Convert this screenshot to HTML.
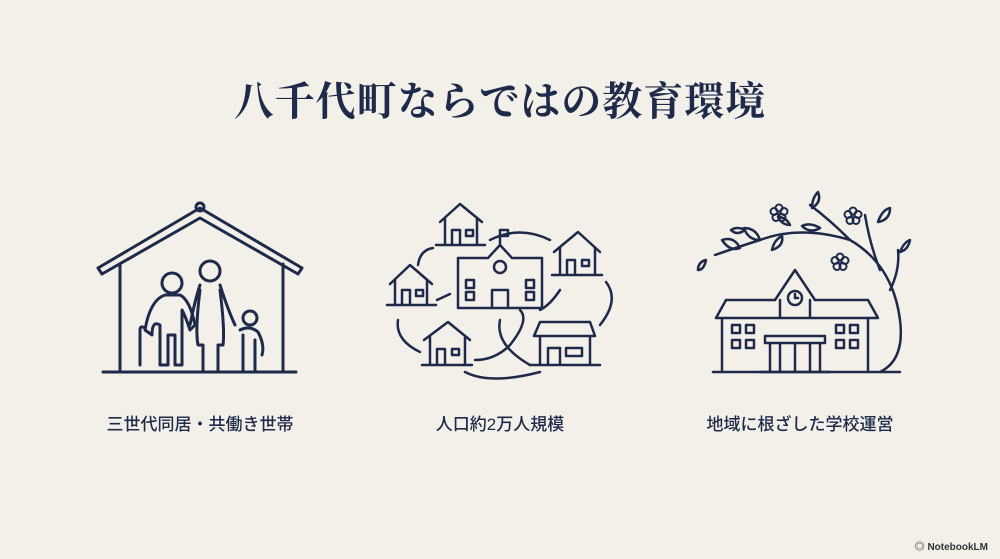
<!DOCTYPE html>
<html><head><meta charset="utf-8"><style>
body{margin:0;width:1000px;height:559px;background:#f3f0ea;overflow:hidden;position:relative;font-family:"Liberation Sans","Noto Sans CJK JP",sans-serif;color:#1e2a4a}
.t{position:absolute;top:70px;left:0;width:1000px;text-align:center;font-family:"Liberation Serif","Noto Serif CJK SC",serif;font-weight:700;font-size:40px;letter-spacing:1px}
.l{position:absolute;top:410px;width:300px;text-align:center;font-size:17px;font-weight:500}
.nb{position:absolute;right:12px;bottom:6px;font-size:10px;font-weight:700;color:#333}
svg{position:absolute;left:0;top:0}
</style></head><body>
<div class="t">八千代町ならではの教育環境</div>
<svg width="1000" height="559" fill="none" stroke="#1e2a4a" stroke-width="3" stroke-linecap="round" stroke-linejoin="round">
<defs><g id="fl"><circle cx="0" cy="-5" r="3.5"/><circle cx="5" cy="-1.5" r="3.5"/><circle cx="3" cy="4.5" r="3.5"/><circle cx="-3" cy="4.5" r="3.5"/><circle cx="-5" cy="-1.5" r="3.5"/><circle cx="0" cy="0" r="1.5"/></g></defs>
<!-- house -->
<path d="M98 268 L200 208 L302 268 L298 274 L200 218 L102 274 Z"/>
<circle cx="200" cy="207" r="4"/>
<path d="M120 264 V372 M283 264 V372 M103 372 H296"/>
<circle cx="172" cy="283" r="10"/>
<path d="M145 330 Q150 300 165 295 H180 Q190 300 195 325 L190 330 Q185 315 182 310 V365 H175 V335 H168 V365 H160 V325 Q152 320 152 335 Z"/>
<path d="M140 365 V330 Q140 325 145 328"/>
<circle cx="210" cy="271" r="10"/>
<path d="M200 285 Q195 300 190 325 M220 285 Q228 310 235 325 M200 290 Q195 330 198 345 H203 V372 M220 290 Q225 330 223 345 H218 V372"/>
<circle cx="250" cy="318" r="7"/>
<path d="M240 330 Q250 325 258 332 Q265 345 262 355 M243 335 V372 M255 340 V372"/>
<!-- middle -->
<g stroke-width="2.5">
<path d="M440 222 L460 204 L482 222 M445 218 V245 H477 V218 M452 245 V230 H460 V245 M466 230 h7 v6 h-7z M436 245 H485"/>
<path d="M390 284 L410 265 L432 284 M395 280 V305 H427 V280 M402 305 V290 H410 V305 M416 290 h7 v6 h-7z M387 305 H436"/>
<path d="M554 252 L578 232 L600 252 M560 248 V275 H595 V248 M567 275 V260 H575 V275 M582 260 h7 v6 h-7z M552 275 H602"/>
<path d="M424 340 L448 322 L470 340 M430 336 V365 H465 V336 M437 365 V349 H445 V365 M452 349 h7 v6 h-7z M422 365 H472"/>
<path d="M534 336 H595 L590 322 H540 Z M540 336 V365 H590 V336 M548 365 V348 H560 V365 M566 348 h16 v8 h-16z M530 365 H600"/>
<path d="M458 258 H488 L500 245 L512 258 H542 V308 H458 Z M500 245 V236 M500 236 h8 v-6 h-8z M492 308 V290 H508 V308"/>
<circle cx="500" cy="267" r="6"/>
<path d="M466 280 h8 v8 h-8z M466 292 h8 v8 h-8z M526 280 h8 v8 h-8z M526 292 h8 v8 h-8z"/>
<path d="M433 248 Q420 250 418 265 M490 240 Q520 225 550 240 M560 290 Q550 305 540 310 M437 300 L450 294 M398 320 Q395 340 420 352 M475 360 Q495 360 510 345 Q530 320 520 310 M500 320 Q495 345 530 365 M540 372 Q490 385 465 372 M606 282 Q620 300 600 325"/>
</g>
<!-- school right -->
<g stroke-width="2.5">
<path d="M713 372 H900 M722 318 V372 M868 318 V372 M716 318 H878 L868 300 H815 M775 300 H726 L716 318 M775 300 L795 270 L815 300 M780 300 V318 M810 300 V318"/>
<circle cx="795" cy="298" r="7"/><path d="M795 294 V298 H798"/>
<path d="M765 336 H825 V343 H765 Z M770 343 V372 M780 343 V372 M795 343 V372 M810 343 V372 M820 343 V372 M760 372 H830"/>
<path d="M732 325 h8 v8 h-8z M746 325 h8 v8 h-8z M732 340 h8 v8 h-8z M746 340 h8 v8 h-8z M836 325 h8 v8 h-8z M850 325 h8 v8 h-8z M836 340 h8 v8 h-8z M850 340 h8 v8 h-8z"/>
<path d="M880 372 Q905 360 900 320 Q893 265 850 240 Q800 225 760 240 Q735 248 715 255 M850 240 Q830 220 810 205 M880 270 Q870 245 865 215 M890 290 Q900 270 898 250"/>
<path d="M740 248 q-6 -12 -18 -8 q8 12 18 8z M760 240 q-4 -12 -16 -12 q4 12 16 12z M772 250 q2 -10 10 -14 q2 10 -10 14z M820 228 q-10 -6 -18 -2 q8 8 18 2z M812 208 q0 -10 6 -16 q4 10 -6 16z M878 222 q4 -12 12 -14 q0 12 -12 14z M900 252 q4 -10 10 -12 q-2 10 -10 12z M706 260 q-2 10 -8 10 q0 -8 8 -10z M745 230 q-8 -4 -14 0 q6 6 14 0z M790 225 q-4 -8 -12 -8 q4 8 12 8z"/>
</g>
<g stroke-width="2"><use href="#fl" x="779" y="213"/><use href="#fl" x="853" y="216"/><use href="#fl" x="840" y="262"/></g>
</svg>
<div class="l" style="left:50px">三世代同居・共働き世帯</div>
<div class="l" style="left:350px">人口約2万人規模</div>
<div class="l" style="left:650px">地域に根ざした学校運営</div>
<div class="nb">◎ NotebookLM</div>
</body></html>
